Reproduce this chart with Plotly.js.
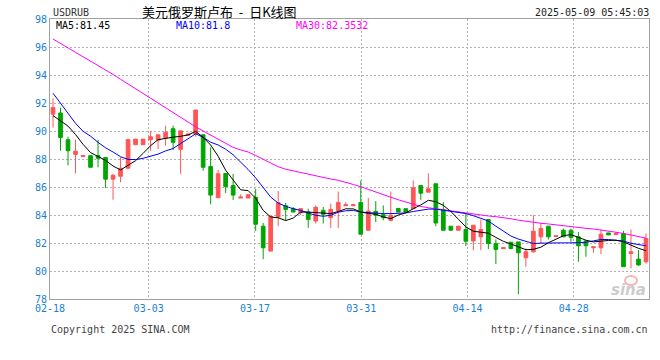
<!DOCTYPE html>
<html>
<head>
<meta charset="utf-8">
<script src="https://cdn.plot.ly/plotly-3.0.1.min.js"></script>
<style>
html,body{margin:0;padding:0;background:#fff;}
#chart{width:660px;height:360px;}
</style>
</head>
<body>
<div id="chart"></div>
<script>
// ---- data ----
const dates = [
 '02-18','02-19','02-20','02-21','02-22','02-23','02-24','02-25','02-26','02-27','02-28',
 '03-01','03-02','03-03','03-04','03-05','03-06','03-07','03-08','03-09','03-10',
 '03-11','03-12','03-13','03-14','03-15','03-16','03-17','03-18','03-19','03-20',
 '03-21','03-22','03-23','03-24','03-25','03-26','03-27','03-28','03-29','03-30','03-31',
 '04-01','04-02','04-03','04-04','04-05','04-06','04-07','04-08','04-09','04-10',
 '04-11','04-12','04-13','04-14','04-15','04-16','04-17','04-18','04-19','04-20',
 '04-21','04-22','04-23','04-24','04-25','04-26','04-27','04-28','04-29','04-30',
 '05-01','05-02','05-03','05-04','05-05','05-06','05-07','05-08'
];
const open = [91.20,91.29,89.38,88.33,88.17,88.24,88.24,88.10,86.56,86.77,
 87.34,89.02,89.02,89.38,89.35,89.49,90.16,88.69,89.70,89.78,
 89.73,87.46,85.23,86.96,86.11,85.21,85.21,85.26,83.20,81.42,
 83.86,84.66,84.45,84.17,84.21,83.57,84.33,83.81,84.33,84.66,
 84.66,84.90,82.91,84.26,84.02,83.62,84.47,84.45,84.45,86.11,
 85.63,86.23,84.38,83.20,82.91,82.96,82.15,82.44,83.67,81.96,
 81.59,82.06,82.08,80.95,81.37,82.44,83.20,82.46,82.91,82.91,
 82.44,82.15,81.66,81.66,82.72,82.60,82.68,81.25,80.85,80.66];
const high = [92.33,91.67,89.59,89.38,88.24,88.24,89.36,88.10,86.94,88.12,
 89.45,89.42,89.42,90.01,89.73,90.37,90.39,90.01,89.80,91.50,
 89.73,88.83,87.22,86.96,86.94,85.47,85.45,85.87,83.43,83.91,
 85.71,84.88,84.57,84.50,84.45,84.69,84.57,84.80,85.68,84.90,
 84.73,86.46,85.21,84.99,84.69,85.68,84.47,84.45,86.46,86.11,
 86.98,86.23,84.92,83.20,83.20,84.10,83.27,83.67,83.67,82.25,
 81.66,82.06,82.08,81.61,83.98,83.43,83.20,82.51,83.03,83.03,
 82.79,82.15,81.73,82.96,82.72,82.79,82.86,82.96,81.49,82.68];
const low = [90.25,88.59,87.55,86.98,88.17,87.41,87.41,85.94,85.09,86.34,
 87.34,89.02,89.02,88.59,88.71,88.95,88.64,86.94,89.70,89.60,
 87.17,84.76,85.23,85.56,85.07,85.21,85.21,82.86,80.85,81.42,
 83.20,83.62,84.21,84.00,83.08,83.39,83.39,83.08,83.08,84.66,
 84.66,82.60,82.91,83.50,83.62,83.55,84.21,84.21,84.45,85.09,
 85.63,83.20,82.91,82.91,82.91,81.78,81.49,81.49,81.56,80.50,
 81.59,81.55,78.34,80.31,81.30,81.96,82.25,82.46,82.44,82.08,
 80.66,81.02,81.30,81.21,82.58,82.60,80.31,80.19,80.38,80.54];
const close = [91.67,89.54,88.59,88.55,88.24,87.41,88.05,86.56,86.84,87.34,
 89.38,89.42,89.42,89.59,89.73,89.90,89.19,90.01,89.78,91.50,
 87.41,85.42,86.94,86.04,85.42,85.28,85.45,83.34,81.66,83.91,
 84.88,84.40,84.21,84.45,83.67,84.55,84.05,84.40,84.90,84.73,
 84.73,82.63,84.28,83.98,83.81,83.98,84.21,84.21,85.94,85.56,
 85.87,83.43,82.91,82.91,83.20,82.13,83.27,82.96,81.96,81.54,
 81.66,81.61,81.30,81.37,82.84,83.03,82.44,82.51,82.44,82.39,
 81.80,81.80,81.73,82.63,82.58,82.68,80.31,81.37,80.43,82.32];
const ma5 = [91.10,90.75,90.35,89.75,89.05,88.46,88.20,87.90,87.50,87.22,
 87.55,87.88,88.40,88.95,89.38,89.49,89.56,89.62,89.72,89.97,
 89.55,89.00,88.20,87.20,86.50,85.80,85.74,85.20,84.33,83.86,
 83.80,83.60,83.78,84.21,84.21,84.18,84.14,84.10,84.25,84.44,
 84.44,84.21,84.12,84.05,83.86,83.74,84.00,84.15,84.45,84.72,
 85.05,84.95,84.69,84.25,83.70,83.15,82.84,82.78,82.70,82.40,
 82.12,81.93,81.72,81.52,81.55,81.70,82.02,82.30,82.52,82.60,
 82.40,82.20,82.08,82.14,82.18,82.20,82.08,81.85,81.62,81.45];
const ma10 = [92.70,91.98,91.27,90.55,89.98,89.63,89.19,88.80,88.50,88.16,
 87.97,87.96,88.05,88.18,88.35,88.58,88.75,89.10,89.45,89.80,
 89.55,89.20,89.00,88.70,88.30,87.80,87.25,86.65,86.00,85.28,
 84.85,84.62,84.45,84.33,84.14,83.98,83.91,83.98,84.20,84.30,
 84.33,84.21,84.17,84.12,84.10,84.10,84.10,84.15,84.25,84.33,
 84.42,84.42,84.33,84.26,84.20,84.10,83.95,83.78,83.57,83.20,
 82.82,82.50,82.28,82.10,81.96,81.99,82.01,82.01,82.01,82.01,
 82.02,82.05,82.15,82.25,82.25,82.22,82.14,81.98,81.88,81.80];
const ma30 = [96.57,96.26,95.94,95.63,95.31,95.00,94.68,94.37,94.04,93.70,
 93.36,93.01,92.67,92.32,91.97,91.63,91.29,90.96,90.60,90.30,
 90.00,89.70,89.40,89.08,88.83,88.65,88.50,88.25,87.97,87.70,
 87.45,87.27,87.15,87.03,86.90,86.77,86.65,86.57,86.48,86.35,
 86.18,86.02,85.82,85.63,85.44,85.27,85.09,84.92,84.77,84.61,
 84.52,84.44,84.37,84.30,84.22,84.14,84.05,83.98,83.93,83.88,
 83.82,83.73,83.63,83.54,83.47,83.41,83.36,83.29,83.22,83.16,
 83.10,83.05,83.00,82.94,82.85,82.77,82.68,82.58,82.47,82.35];
const tickDays = ['02-18','03-03','03-17','03-31','04-14','04-28'];
const yTicks = [78,80,82,84,86,88,90,92,94,96,98];
const maLabels = ['MA5:81.45','MA10:81.8','MA30:82.3532'];

// ---- styling / layout constants ----
const RED = '#ff5555', GREEN = '#00a600';
const BLUE_TXT = '#1a7fd4';
const MONO = 'DejaVu Sans Mono, monospace';
const GRID_STEP = 1.0112, GRID_SHIFT = -0.4;   // date grid vs candle slots
const NB = '\u00A0';

const xs = dates.map((d, i) => i);
const tickvals = tickDays.map(d => dates.indexOf(d) * GRID_STEP + GRID_SHIFT);

const traces = [
  {type:'candlestick', x: xs, open: open, high: high, low: low, close: close,
   increasing:{line:{color:RED, width:1}, fillcolor:RED},
   decreasing:{line:{color:GREEN, width:1}, fillcolor:GREEN},
   whiskerwidth:0, hoverinfo:'skip', showlegend:false},
  {type:'scatter', mode:'lines', x: xs, y: ma30, line:{color:'#ff00ff', width:1}, hoverinfo:'skip'},
  {type:'scatter', mode:'lines', x: xs, y: ma10, line:{color:'#0000ff', width:1}, hoverinfo:'skip'},
  {type:'scatter', mode:'lines', x: xs, y: ma5, line:{color:'#000000', width:1}, hoverinfo:'skip'}
];

const L = 50, R = 649, T = 19, B = 299;
const px = v => (v - L) / (R - L);
const py = v => (B - v) / (B - T);

const annotations = [
  {text:'USDRUB', xref:'paper', yref:'paper', x:px(51), y:py(12), xanchor:'left', yanchor:'middle',
   showarrow:false, font:{family:MONO, size:10, color:'#333'}},
  {text:'美元俄罗斯卢布' + NB + NB + '-' + NB + NB + '日K线图', xref:'paper', yref:'paper', x:px(219), y:py(11.5),
   xanchor:'center', yanchor:'middle', showarrow:false, font:{family:'Noto Sans CJK SC', size:13, color:'#000'}},
  {text:'2025-05-09 05:45:03', xref:'paper', yref:'paper', x:px(651), y:py(12), xanchor:'right', yanchor:'middle',
   showarrow:false, font:{family:MONO, size:10, color:'#222'}},
  {text:maLabels[0], xref:'paper', yref:'paper', x:px(54), y:py(25), xanchor:'left', yanchor:'middle',
   showarrow:false, font:{family:MONO, size:10, color:'#000'}},
  {text:maLabels[1], xref:'paper', yref:'paper', x:px(174), y:py(25), xanchor:'left', yanchor:'middle',
   showarrow:false, font:{family:MONO, size:10, color:'#0000ff'}},
  {text:maLabels[2], xref:'paper', yref:'paper', x:px(294), y:py(25), xanchor:'left', yanchor:'middle',
   showarrow:false, font:{family:MONO, size:10, color:'#ff00ff'}},
  {text:'Copyright 2025 SINA.COM', xref:'paper', yref:'paper', x:px(49), y:py(329.5), xanchor:'left', yanchor:'middle',
   showarrow:false, font:{family:MONO, size:10, color:'#444'}},
  {text:'http://finance.sina.com.cn', xref:'paper', yref:'paper', x:px(650), y:py(329.5), xanchor:'right', yanchor:'middle',
   showarrow:false, font:{family:MONO, size:10, color:'#444'}},
  {text:'sina', xref:'paper', yref:'paper', x:px(648), y:py(290), xanchor:'right', yanchor:'middle',
   showarrow:false, font:{family:'DejaVu Sans', size:15, color:'#cccccc', weight:'bold', style:'italic'}}
];

const shapes = [
  {type:'circle', xref:'paper', yref:'paper', x0:px(625), x1:px(637), y0:py(285), y1:py(276),
   line:{color:'#f2b8b8', width:2}, fillcolor:'rgba(0,0,0,0)'}
];

const layout = {
  width:660, height:360,
  margin:{l:L, r:660-R, t:T, b:360-B, pad:0},
  paper_bgcolor:'#fff', plot_bgcolor:'#fff',
  showlegend:false,
  boxgap:0.3,
  xaxis:{
    range:[-0.4, 79.4], fixedrange:true,
    tickmode:'array', tickvals:tickvals, ticktext:tickDays,
    showgrid:true, gridcolor:'#b0b0b0', griddash:'2px,2px', gridwidth:1,
    showline:true, mirror:true, linecolor:'#a0a0a0', linewidth:1,
    zeroline:false, ticks:'',
    tickfont:{family:MONO, size:10, color:BLUE_TXT},
    rangeslider:{visible:false}
  },
  yaxis:{
    range:[78, 98], fixedrange:true,
    tickmode:'array', tickvals:yTicks, ticktext:yTicks.map(String),
    showgrid:true, gridcolor:'#b0b0b0', griddash:'2px,2px', gridwidth:1,
    showline:true, mirror:true, linecolor:'#a0a0a0', linewidth:1,
    zeroline:false, ticks:'',
    tickfont:{family:MONO, size:10, color:BLUE_TXT}
  },
  annotations: annotations,
  shapes: shapes
};

Plotly.newPlot('chart', traces, layout, {displayModeBar:false, staticPlot:true});
</script>
</body>
</html>
